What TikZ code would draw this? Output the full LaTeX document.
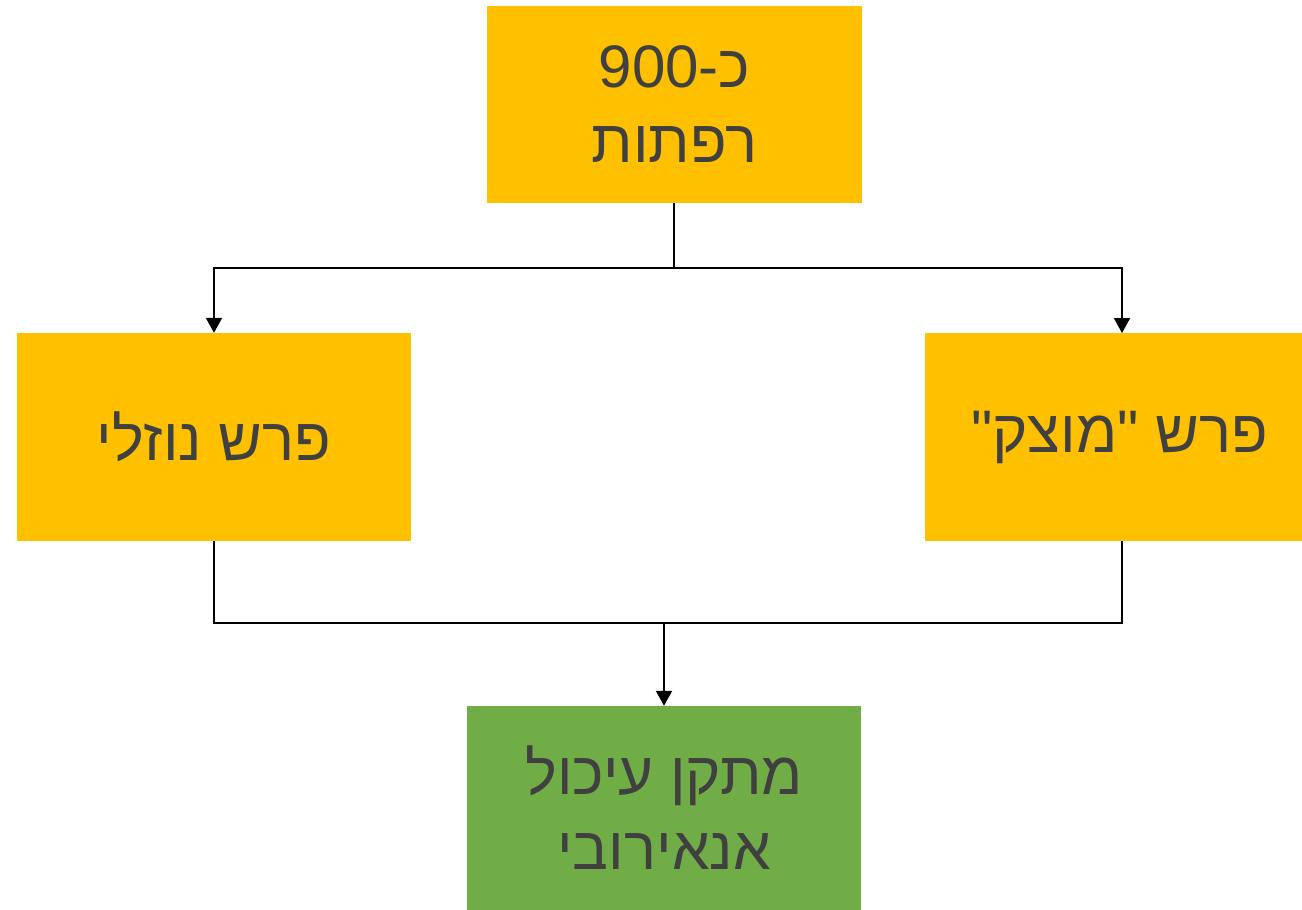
\documentclass[tikz,border=0pt]{standalone}
\usepackage{fontspec}
\setmainfont{Liberation Sans}
\newfontfamily\hebfont[Script=Hebrew]{Liberation Sans}
\TeXXeTstate=1
\usetikzlibrary{arrows.meta}
\definecolor{boxyellow}{HTML}{FFC000}
\definecolor{boxgreen}{HTML}{70AD47}
\definecolor{txtgray}{HTML}{404040}
\tikzset{
  box/.style={fill=#1, draw=none, inner sep=0pt, text=txtgray, align=center,
    font=\hebfont\fontsize{60}{75}\selectfont},
  conn/.style={draw=black, line width=2pt},
  arr/.style={conn, -{Triangle[width=16pt,length=15pt]}}
}
\begin{document}
\begin{tikzpicture}[x=1pt,y=-1pt]
\useasboundingbox (0,0) rectangle (1302,910);
\fill[white] (0,0) rectangle (1302,910);
\node[box=boxyellow, minimum width=375pt, minimum height=197pt] (top) at (674.5,104.5) {\beginR כ-\beginL900\endL\endR\\\beginR רפתות\endR};
\node[box=boxyellow, minimum width=394pt, minimum height=208pt] (left) at (214,437) {\beginR פרש נוזלי\endR};
\node[box=boxyellow, minimum width=377pt, minimum height=208pt] (right) at (1113.5,437) {\hspace*{12pt}\beginR פרש "מוצק"\endR};
\node[box=boxgreen, minimum width=394pt, minimum height=204pt] (bottom) at (664,808) {\beginR מתקן עיכול\endR\\\beginR אנאירובי\endR};
\coordinate (split) at (674,268);
\coordinate (join) at (664,623);
\draw[conn] (split |- top.south) -- (split);
\draw[arr] (split) -| (left.north);
\draw[arr] (split) -| (1122,333);
\draw[conn] (left.south) |- (join);
\draw[conn] (join) -| (1122,541);
\draw[arr] (join) -- (bottom.north);
\end{tikzpicture}
\end{document}
